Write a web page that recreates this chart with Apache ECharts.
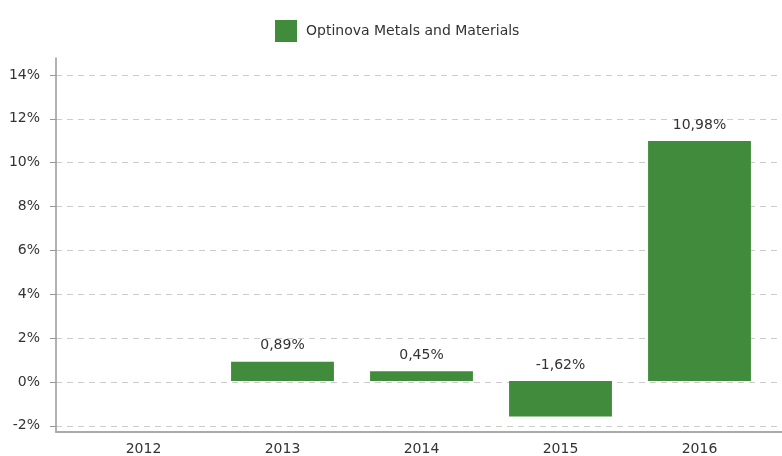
<!DOCTYPE html>
<html>
<head>
<meta charset="utf-8">
<script src="https://cdn.jsdelivr.net/npm/echarts@6/dist/echarts.min.js"></script>
<style>html,body{margin:0;padding:0;background:#fff}#c{width:782px;height:456px}</style>
</head>
<body>
<div id="c"></div>
<script>
var categories = ['2012', '2013', '2014', '2015', '2016'];
var seriesName = 'Optinova Metals and Materials';
var values = [null, 0.89, 0.45, -1.62, 10.98];
var yTicks = [-2, 0, 2, 4, 6, 8, 10, 12, 14];
var yMin = -2.28, yMax = 14.77;

var font = 'DejaVu Sans, sans-serif';
var chart = echarts.init(document.getElementById('c'), null, {renderer: 'canvas'});
chart.setOption({
  animation: false,
  legend: {
    top: 15, left: 270,
    itemWidth: 22, itemHeight: 22, itemGap: 10,
    textStyle: {fontFamily: font, fontSize: 14, color: '#333', padding: [0, 0, 0, 4]},
    data: [{name: seriesName, icon: 'rect'}]
  },
  grid: [
    {left: 56, right: 0, top: 58, bottom: 24, containLabel: false},
    {left: 74, right: 13, top: 58, bottom: 24, containLabel: false}
  ],
  xAxis: [
    {gridIndex: 0, type: 'value', min: 0, max: 1, show: true,
     axisLine: {show: true, onZero: false, lineStyle: {color: '#aaa', width: 2}},
     axisTick: {show: false}, axisLabel: {show: false}, splitLine: {show: false}},
    {gridIndex: 1, type: 'category', data: categories,
     axisLine: {show: false, onZero: false}, axisTick: {show: false},
     axisLabel: {fontFamily: font, fontSize: 14, color: '#333', margin: 11}}
  ],
  yAxis: [
    {gridIndex: 0, type: 'value', min: yMin, max: yMax,
     axisLine: {show: true, lineStyle: {color: '#999', width: 1.5}},
     axisTick: {show: true, length: 6, customValues: yTicks, lineStyle: {color: '#999'}},
     axisLabel: {customValues: yTicks, fontFamily: font, fontSize: 14, color: '#333', margin: 16,
       formatter: function (v) { return v + '%'; }},
     splitLine: {show: true, lineStyle: {color: '#ccc', type: [6, 5], width: 1}}},
    {gridIndex: 1, type: 'value', min: yMin, max: yMax, show: false, splitLine: {show: false}}
  ],
  series: [{
    name: seriesName, type: 'bar', xAxisIndex: 1, yAxisIndex: 1,
    data: values,
    barWidth: '74%',
    itemStyle: {color: '#418c3c'},
    label: {show: true, position: 'top', distance: 9, fontFamily: font, fontSize: 14, color: '#333',
      formatter: function (p) { return p.value == null ? '' : p.value.toFixed(2).replace('.', ',') + '%'; }}
  }]
});
</script>
</body>
</html>
